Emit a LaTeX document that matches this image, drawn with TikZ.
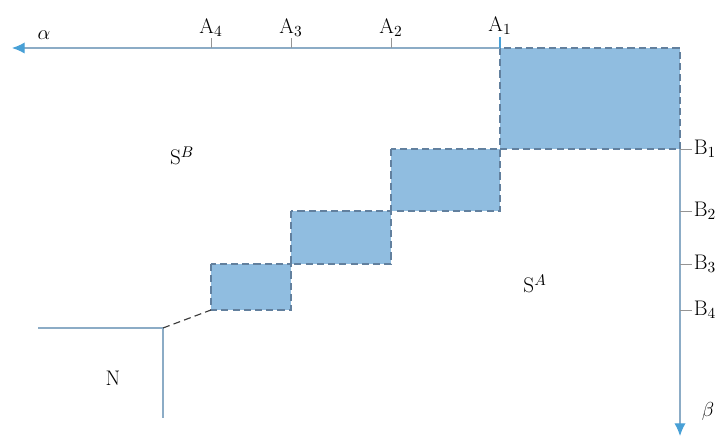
\documentclass[tikz,border=0pt]{standalone}
\usepackage{tikz}
\usetikzlibrary{arrows.meta,positioning,calc}
\definecolor{axblue}{RGB}{140,172,198}
\definecolor{tipblue}{RGB}{72,160,214}
\definecolor{boxfill}{RGB}{144,189,224}
\definecolor{boxedge}{RGB}{98,128,158}
\definecolor{inkgray}{RGB}{60,60,60}
\tikzset{
  axis/.style={
    draw=axblue,
    line width=0.9pt,
    -{Latex[length=9pt,width=8pt,color=tipblue]}
  },
  region/.style={
    fill=boxfill,
    draw=boxedge,
    line width=0.9pt,
    dash pattern=on 5pt off 3pt
  },
  tick/.style={draw=inkgray!55,line width=0.6pt},
  nline/.style={draw=axblue,line width=0.8pt},
  link/.style={draw=inkgray,line width=0.8pt,dash pattern=on 5pt off 3pt},
  lbl/.style={font=\fontsize{15}{17}\selectfont,inner sep=1pt,text=black}
}
\begin{document}
\begin{tikzpicture}[x=0.025cm,y=-0.025cm]
        \useasboundingbox (0,0) rectangle (723,438);
        \coordinate (ax0) at (680,48);
        \coordinate (by0) at (680,48);
        \coordinate (ax1) at (500,48);
        \coordinate (ax2) at (391,48);
        \coordinate (ax3) at (291,48);
        \coordinate (ax4) at (211,48);
        \coordinate (by1) at (680,149);
        \coordinate (by2) at (680,211);
        \coordinate (by3) at (680,264);
        \coordinate (by4) at (680,310);
        \coordinate (atip) at (12,48);
        \coordinate (btip) at (680,436);
        \coordinate (ncorner) at (163,328);
        \coordinate (nleft) at (38,328);
        \coordinate (nbottom) at (163,418);

        \foreach \i/\j in {1/0,2/1,3/2,4/3}
          \draw[region] (ax\i |- by\j) rectangle (ax\j |- by\i);

        \draw[axis] (ax1) -- (atip);
        \draw[axis] (by1) -- (btip);

        \draw[tick,draw=tipblue,line width=0.9pt] (ax1) -- ++(0,-11) node[lbl,above] (la1) {A$_1$};
        \foreach \i in {2,3,4}
          \draw[tick] (ax\i) -- ++(0,-10) node[lbl,above] (la\i) {A$_\i$};
        \foreach \i in {1,...,4}
          \draw[tick] (by\i) -- ++(12,0) node[lbl,right] (lb\i) {B$_\i$};

        \draw[nline] (nleft) -- (ncorner) -- (nbottom);
        \draw[link] (ncorner) -- (ax4 |- by4);

        \node[lbl] (alpha) at (44,35) {$\alpha$};
        \node[lbl] (beta) at (708,411) {$\beta$};
        \node[lbl] (sb) at (182,156) {S$^{B}$};
        \node[lbl] (sa) at (535,284) {S$^{A}$};
        \node[lbl] (n) at (113,378) {N};
      \end{tikzpicture}
\end{document}
